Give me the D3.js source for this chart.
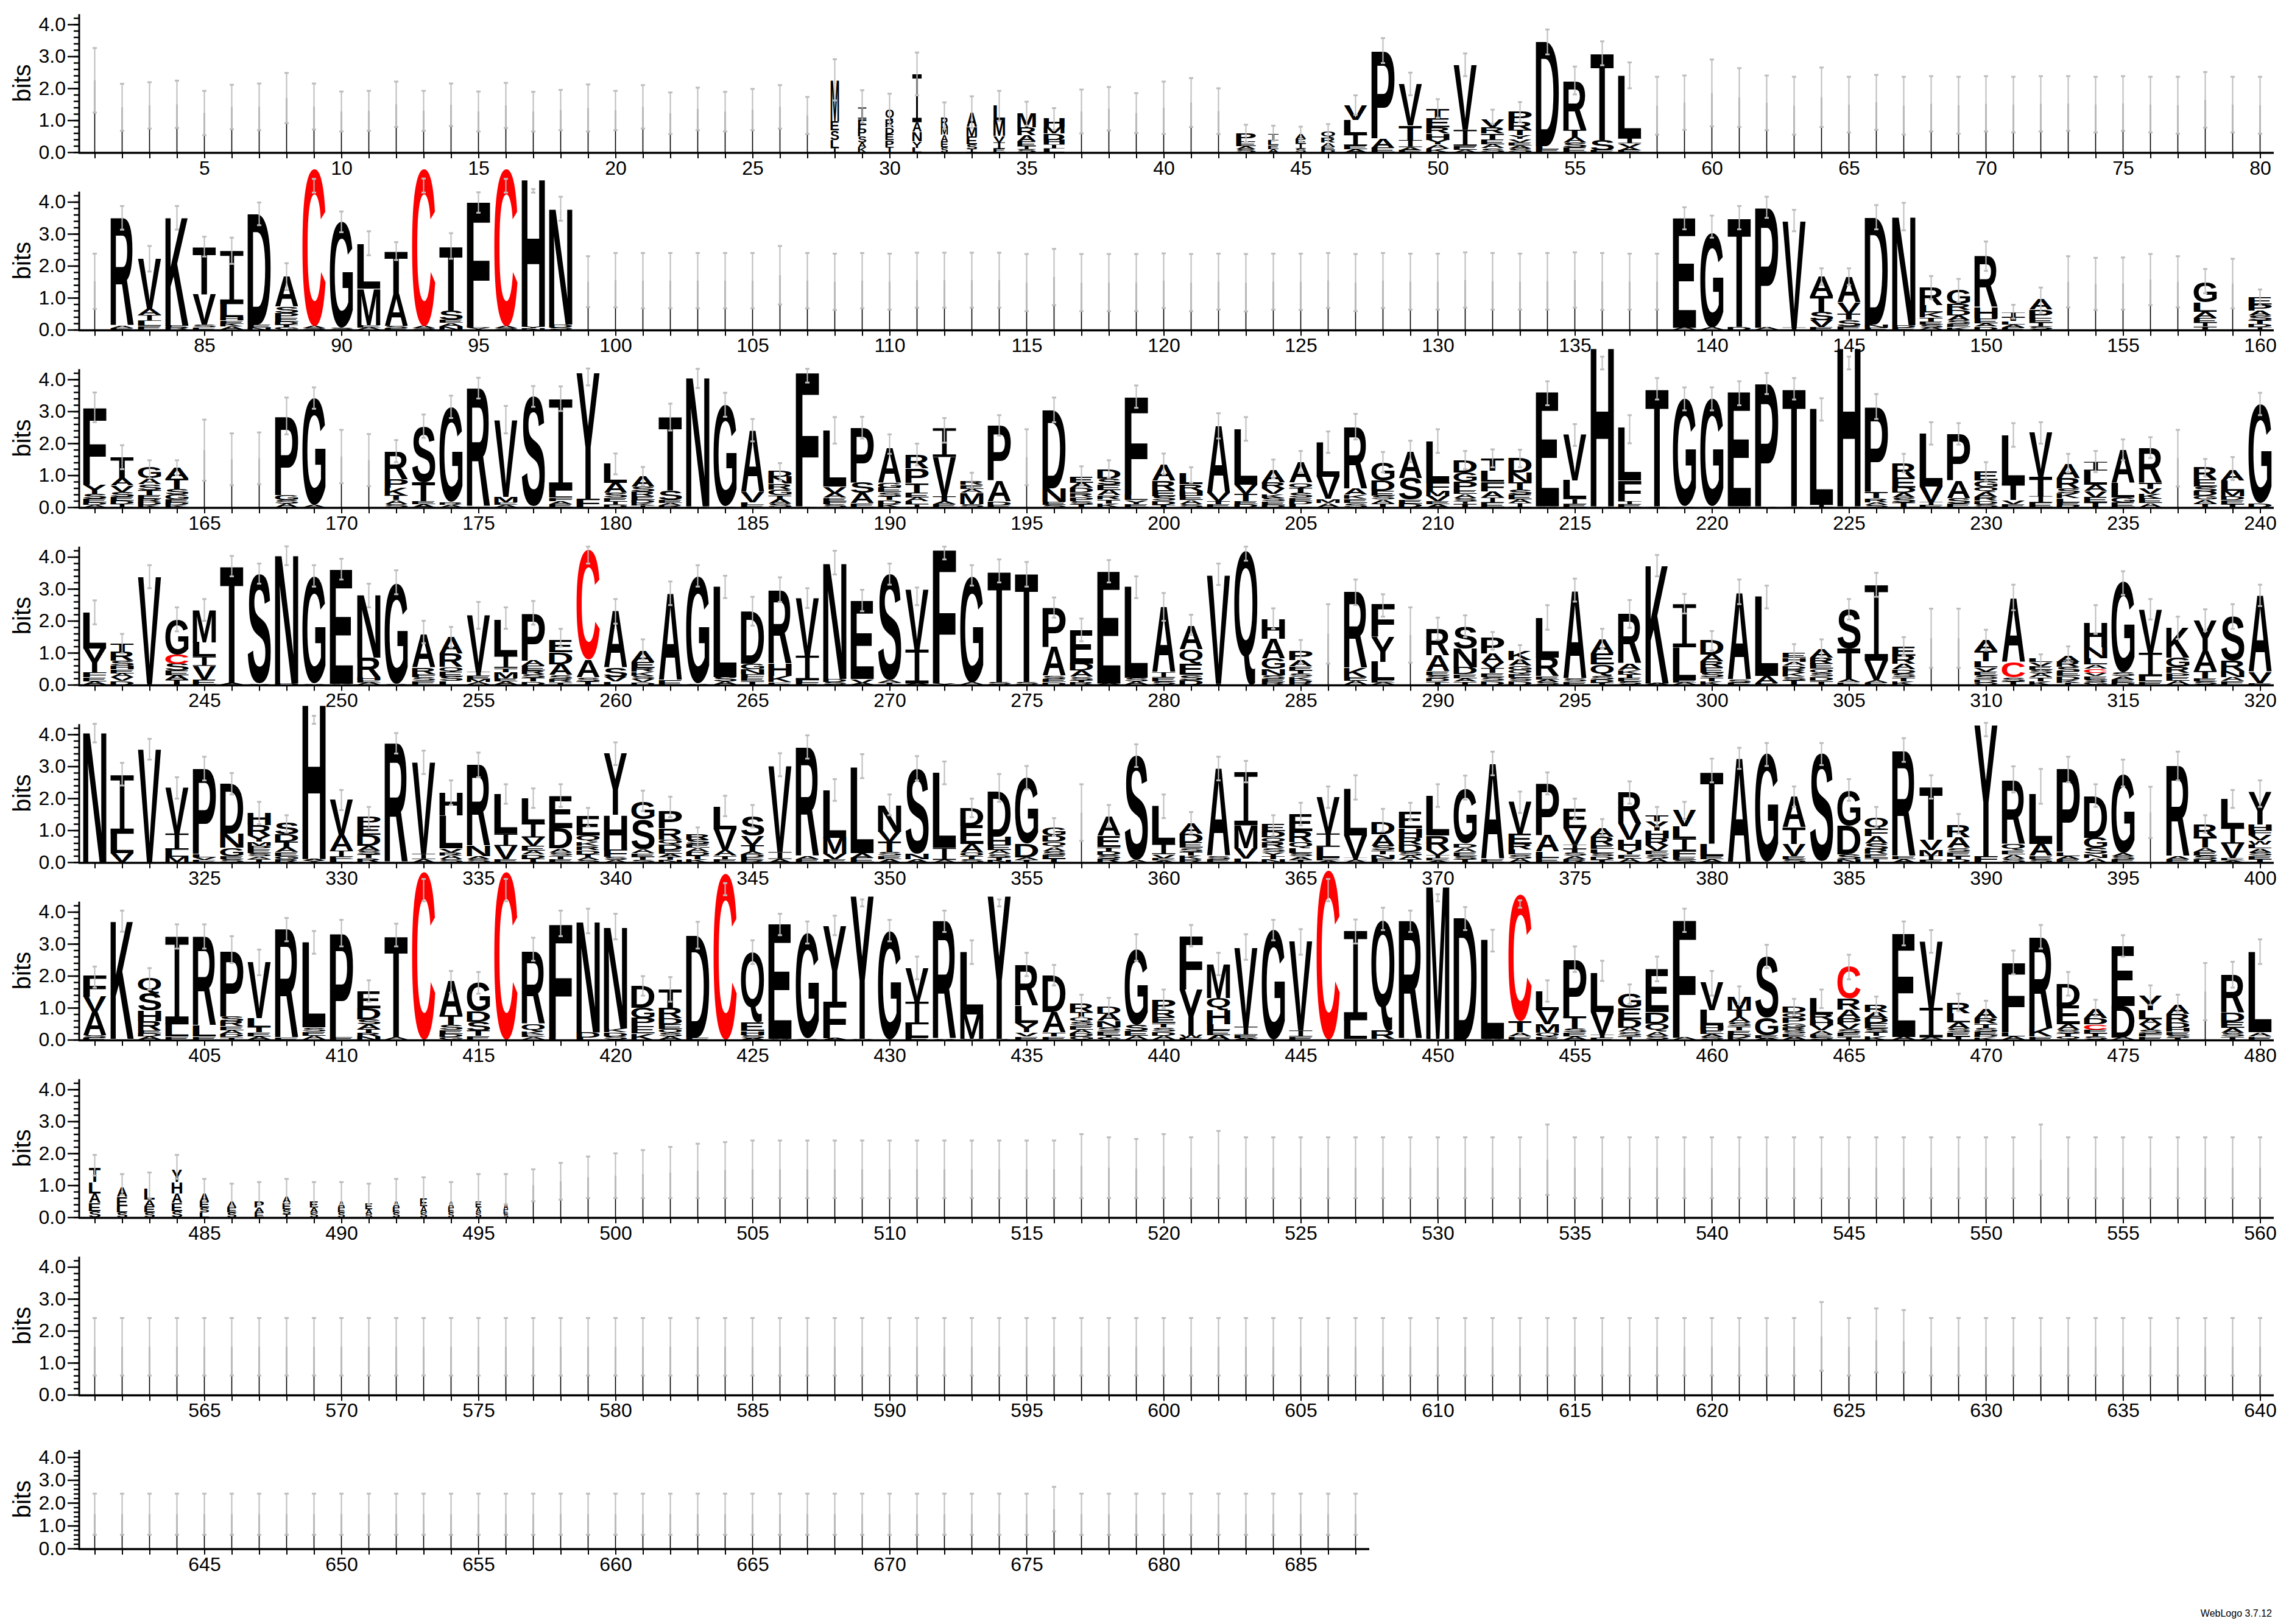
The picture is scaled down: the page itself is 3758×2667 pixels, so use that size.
<!DOCTYPE html>
<html><head><meta charset="utf-8">
<script src="https://cdn.jsdelivr.net/npm/d3@7"></script>
<style>body{margin:0;background:#fff}</style>
</head><body>
<svg id="chart" width="3758" height="2667" xmlns="http://www.w3.org/2000/svg"></svg>
<script>
// Each position: "letters(top->bottom with bits);errLow,errHigh[;widthFraction]"
const row1 = [
";1.24,3.26",";.67,2.14",";.74,2.19",";.76,2.24",";.53,1.92",";.72,2.11",";.69,2.15",";.91,2.48",";.71,2.15",";.65,1.9",
";.67,1.92",";.79,2.21",";.67,1.92",";.82,2.15",";.65,1.9",";.76,2.17",";.65,1.89",";.69,1.95",";.65,2.12",";.69,1.92",
";.74,2.1",";.57,1.87",";.69,2.02",";.65,1.89",";.69,1.98",";.74,2.1",";.57,1.73",
"M1.27E.3S.3L.25I.13;1.62,2.91;.36","I.35F.3P.25S.2A.15K.15;.92,1.94;.36","Q.3R.25D.2E.2P.2T.18;.84,1.83;.36",
"I1.5A.3N.3Y.2L.14;1.78,3.12;.4","R.3M.25A.2E.2S.15;.73,1.56;.3","A.45M.3E.25S.14I.1;.76,1.75;.45",
"L.45M.5V.2I.2E.11;.98,1.92;.5","M.45R.25A.2E.15I.1S.09;.83,1.58;.8","H.3M.2D.2H.15I.12L.12;.7,1.38;.9",
";.59,1.96",";.68,2.04",";.6,1.85",";.57,2.21",";.79,2.32",";.57,2.0",
"P.25E.15A.1S.1;.32,.86;.85","I.2L.15E.12A.1;.36,.83;.45","A.15E.15I.15S.12;.34,.8;.45","Q.2R.15A.12E.1D.08;.19,.88;.6",
"V.45L.45I.35E.12A.09;1.17,1.78","P2.73A.3E.14;2.79,3.57","V1.3T.45I.22A.1E.06;1.78,2.49","T.3E.28R.2H.2Y.15A.12K.12;1.08,1.66",
"V2.03I.5E.12A.08;2.38,3.09","V.24R.2T.2E.14A.12S.13;.89,1.33","P.32R.24T.18Y.12V.1E.1A.1S.11;.95,1.57","D3.26L.1E.09;3.06,3.84",
"R1.52T.22A.18S.15E.15;1.81,2.68","T2.7S.32E.06;2.72,3.47","L1.96I.16V.13A.09E.06;2.0,2.81",
";.55,2.36",";.7,2.4",";.81,2.9",";.79,2.63",";.69,2.4",";.55,2.36",";.79,2.65",";.62,2.36",";.7,2.42",";.55,2.36",
";.65,2.38",";.58,2.36",";.65,2.38",";.62,2.36",";.65,2.38",";.67,2.38",";.62,2.36",";.67,2.38",";.62,2.36",";.58,2.36",
";.77,2.51",";.62,2.36",";.58,2.36"
];
const row2 = [
";.65,2.38","R3.37A.07E.05;3.13,3.87","V1.56A.2I.18L.15E.13;1.82,2.62","K3.38E.07R.06;3.13,3.87","T1.47V.95S.08E.08;2.29,2.91",
"I1.66L.41H.1E.1K.09A.1;2.06,2.88","D3.46E.09N.07;3.27,3.98","A.92S.2P.15E.12D.1T.08G.08;1.24,2.08","C4.92A.06S.05;4.29,4.72","G3.32S.05;3.05,3.7",
"L1.4M1.14E.08A.07;2.33,3.08","T1.33A1.0S.06E.05;2.18,2.74","C4.92A.06S.05;4.29,4.73","T2.0S.29E.1A.1N.11;2.22,3.02","F3.89L.06Y.06;3.66,4.3",
"C4.92A.06S.05;4.29,4.72","H4.63Y.05N.04;4.29,4.4","N3.63D.1S.06;3.41,4.16",
";.71,2.3",";.7,2.4",";.67,2.4",";.67,2.4",";.67,2.4",";.67,2.4",";.67,2.4",";.79,2.62",";.67,2.4",";.62,2.38",
";.67,2.4",";.63,2.38",";.69,2.41",";.69,2.41",";.69,2.41",";.69,2.41",";.58,2.37",";.77,2.53",";.58,2.37",";.58,2.37",
";.58,2.37",";.68,2.39",";.58,2.37",";.63,2.38",";.57,2.37",";.63,2.38",";.62,2.38",";.68,2.4",";.58,2.37",";.68,2.4",
";.63,2.38",";.63,2.38",";.69,2.42",";.63,2.4",";.63,2.38",";.63,2.4",";.69,2.42",";.62,2.4",";.63,2.38",";.63,2.38",
"E3.43A.06;3.14,3.83","G2.95A.07;2.88,3.57","T3.4D.09;3.14,3.87","P3.77A.06;3.5,4.16","V3.33I.07;3.08,3.75",
"A.62T.48S.27V.21E.09;1.4,1.92","A.79V.35T.2S.2E.11;1.4,1.92","D3.33N.1E.06;3.14,3.9","N3.4D.08E.06;3.11,3.97","R.57L.22K.15T.13E.1S.1A.06;.95,1.68",
"G.44R.19D.16A.15S.12E.1K.08;.87,1.59","R1.59H.35E.15A.1D.1;1.84,2.76","I.15T.12L.1A.1E.07;.35,.78","A.32P.27E.14I.12S.1;.51,1.32",
";.7,2.3",";.62,2.25",";.63,2.26",";.77,2.37",";.7,2.3","G.63L.29A.2E.15I.12T.1;1.14,1.9",";.67,2.22","E.22P.2A.15S.15T.12D.1I.08;.76,1.26"
];
const row3 = [
"F2.4Y.28S.15E.12D.08A.07;2.66,3.59","T.65A.22V.2S.15E.12D.11I.1;1.19,1.94","G.35A.18S.18T.15E.12R.1D.1K.07;.91,1.47","A.35T.32S.18G.15E.1D.08K.07;1.0,1.47",
";.83,2.74",";.69,2.31",";.72,2.34","P2.45G.15S.12A.11;2.28,3.43","G3.33A.07;3.08,3.75",";.75,2.42",
";.66,2.29","R.86P.26K.24T.15A.12S.1;1.41,2.1","S1.74T.58E.09A.1;2.17,2.9","G2.95R.08A.08;2.79,3.49","R3.7E.02;3.4,4.05",
"V2.4M.16E.08A.08;2.31,3.17","S3.43A.03;3.14,3.79","I2.85L.22F.1A.1E.1;3.01,3.78","Y3.94F.26;3.81,4.34","L.61A.32S.15E.12I.1D.08;1.03,1.68",
"A.32S.15R.14E.12D.1K.07I.06;.67,1.26","T2.3S.29E.1A.08R.05;2.4,3.24","N4.04D.03;3.73,4.33","G3.17A.03;2.83,3.58","A1.92V.32L.08E.08;2.06,2.76",
"D.2N.21R.18G.18T.13A.14S.11;.83,1.38","F4.2Y.03;3.9,4.33","L1.76V.2A.14E.1F.1S.1;1.99,2.82","P1.73S.32A.32E.13;2.15,2.83","A1.09G.16E.14S.13T.12D.12K.1;1.67,2.28",
"R.42P.45T.3E.15A.12L.1I.09;1.31,1.99","I.9V1.22T.15A.1E.1;2.02,2.79","R.13E.12A.13M.35S.1;.6,1.08","P1.73A.64D.13E.06;2.24,2.88",";.69,2.44",
"D2.44N.42E.1S.08;2.66,3.43","E.2A.16D.15R.13P.12S.1T.1;.69,1.28","D.29S.2E.16A.16R.13T.13K.12;.92,1.47","F3.08L.16Y.13E.09;3.11,3.81","A.48R.29E.19S.15D.12T.08;1.03,1.68",
"L.35R.2H.15E.15A.12S.1;.77,1.25","A2.1V.26T.1E.09;2.15,2.94","L1.73V.29T.22E.1D.1;2.08,2.82","A.38R.19V.16K.13S.11E.1D.08;.9,1.49","A.64Q.17T.15S.15E.1D.1L.1;1.09,1.76",
"L1.06V.7M.13A.13;1.7,2.37","R1.92A.19K.13E.13S.13;2.12,2.92","G.58D.32E.14S.13A.12T.12;1.09,1.73","A.83S.67E.12D.11;1.41,2.08","L1.28F.26M.16V.16E.1A.09;1.7,2.44",
"D.38G.29P.26E.13A.13S.1I.08T.1;1.19,1.76","T.4L.35F.3A.2I.15E.15;1.25,1.81","D.45N.32T.22S.15E.15A.12I.13;1.25,1.8","E3.57A.03;3.19,3.94","V1.44L.58I.16E.1;1.92,2.6",
"H4.97A.03;4.31,4.71","L1.67F.64I.1E.09;2.0,2.88","T3.67A.03;3.37,4.04","G3.37A.03;3.03,3.75","G3.37A.03;3.03,3.75",
"E3.57A.03;3.19,3.94","P3.85A.03;3.54,4.2","T3.67A.03;3.37,4.04","L3.0I.08;2.71,3.41","H4.97A.03;4.31,4.71",
"P2.65T.2R.12A.08S.08;2.76,3.54","R.45E.32D.16A.15S.15T.15;1.09,1.67","L1.65V.48I.1E.06;1.96,2.66","P1.46A.55S.17E.11;1.96,2.63","E.29G.2Q.15A.15R.13D.1S.1;.83,1.41",
"L1.49T.55V.13E.09;1.89,2.63","V1.39T.61I.2E.15;1.99,2.66","A.45R.32S.15K.15L.13E.1D.06;1.09,1.67","I.27L.45A.19V.2E.16T.15;1.1,1.76","A1.03L.45G.16E.15;1.47,2.12",
"R1.09T.19V.16K.15E.14A.13;1.54,2.19",";.65,2.42","R.38E.22S.15D.14G.12A.12T.12;.96,1.51","A.32L.32M.16D.13E.12T.1;.85,1.57","G3.09D.13;2.88,3.58"
];
const row4 = [
"L1.11Y.77F.14E.13A.1;1.89,2.64","T.25R.29S.15H.12E.12A.12V.12D.12;.98,1.59","V3.31I.05;3.02,3.74","G1.09C.29S.22E.14A.14T.16;1.67,2.42","M1.0L.45I.29V.42E.17;2.0,2.68",
"T3.67A.04;3.39,4.03","S3.41A.03;3.16,3.79","N4.02D.04;3.74,4.33","G3.34A.03;3.07,3.74","E3.57A.03;3.29,3.94",
"N1.96R.61H.1E.08A.06;2.42,3.16","G3.15A.03;2.83,3.58","A1.03R.19F.1S.12E.12;1.3,2.0","A.51R.42Q.16E.14S.14L.12;1.17,1.81","V1.77I.12E.1M.1A.08;1.75,2.59",
"L1.13I.38T.13M.2E.1A.1;1.75,2.42","P1.48A.16E.14R.12S.12T.11D.1;1.88,2.62","E.39D.37A.33S.13R.1T.08;1.19,1.75","C3.44A.55S.12T.11;3.79,4.32","A1.77S.29V.14L.1;1.91,2.68",
"A.35E.19R.13K.12S.1V.1D.08;.79,1.42","A2.71E.14;2.49,3.23","G3.34A.03;3.07,3.74","L2.83S.14A.1;2.71,3.41","D1.64G.18N.14F.12E.1T.12;1.85,2.75",
"R2.28H.39K.19E.08;2.59,3.36","V1.8I.77L.07E.07;2.4,3.02","N3.63D.1S.08;3.45,4.19","E2.44V.13A.05;2.3,2.97","S3.31A.08T.06;3.13,3.79",
"V1.87I1.06A.04;2.49,3.04","F4.2Y.04;3.92,4.32","G3.31A.06;3.1,3.74","T3.46S.08;3.2,3.92","T3.38S.08;3.07,3.84",
"P1.23A.9S.1E.1D.08;2.1,2.73","E1.04D.22A.19S.1T.08R.07;1.36,2.07","E3.5A.04;3.2,3.9","L2.86S.11A.1;2.71,3.39","A2.03I.16E.13S.1;2.0,2.87",
"A.74Q.45E.35S.16D.15;1.56,2.19","V3.38I.04;3.12,3.79","Q4.19;3.88,4.32","H.61A.61G.32N.2S.12E.1R.08;1.75,2.39","P.29A.2E.13T.1S.1K.1D.08R.07;.66,1.4",
";.66,2.52","R2.38K.29E.12A.12;2.49,3.29","F1.02Y.77L.58E.08A.06;2.13,2.83",";.69,2.42","R.84A.48E.13S.1D.1T.1;1.4,2.1",
"S.68N.58D.22E.13A.1T.1;1.49,2.17","P.48A.29V.17T.15E.13S.12D.12;1.1,1.65","K.29A.19G.13Q.12E.12S.1D.12;.72,1.24","L1.25R.58E.1A.09S.08;1.72,2.49","A2.74S.1E.1;2.6,3.32",
"A.45E.35Q.35S.12D.1T.06;1.12,1.75","R1.55A.19K.13T.12E.12S.1;1.78,2.65","K3.7A.04;3.39,4.06","I1.35L1.03E.07A.07;2.23,2.84","D.45A.22R.19E.16S.15T.12K.11;1.07,1.68",
"A2.7S.1E.07;2.52,3.29","L2.48A.22E.05;2.39,3.1","E.14H.13A.13D.1R.12K.12S.1T.15;.66,1.27","A.27R.19E.16Q.13S.12D.13T.12;.85,1.42","S1.22T.96A.1E.08;2.04,2.68",
"I2.36V.61A.08E.06;2.75,3.5","E.29R.26A.16D.13S.13T.12K.11;.91,1.49",";.53,2.38",";.53,2.38","A.35T.32L.19V.13E.12S.12D.1Q.07;1.07,1.72",
"A1.99C.48S.13T.11;2.33,3.13","L.13V.13E.12S.12A.12T.12K.11;.4,.95","A.19R.16S.15E.14D.12K.08T.07;.72,1.2","H.77N.35L.19A.13C.13V.1E.1S.09G.08;1.59,2.49","G2.83S.12A.1E.1D.07;2.81,3.55",
"V1.35I.74L.16E.1;2.04,2.68","K.93G.29R.19P.13E.12A.12;1.43,2.13","Y.96A.64T.22E.1S.1;1.68,2.36","S1.38R.32N.19A.12E.12;1.75,2.52","A2.38V.35E.05;2.46,3.13"
];
const row5 = [
"N4.07;3.75,4.33","I1.83L.61V.28;2.4,3.11","V3.53;3.21,3.86","V1.44I.51L.22M.17;1.99,2.66","P2.69L.1V.08E.08;2.56,3.3",
"D1.57N.45G.26E.1S.09;2.12,2.79","H.38R.32Y.2M.12P.12E.12S.1A.08T.1;1.19,1.89","S.38D.22T.19A.14E.12G.1R.1;.93,1.47","H4.84A.05Y.05;4.33,4.58","V1.12A.48I.19E.08L.09;1.63,2.26",
"P.29E.29D.35A.14S.12T.12R.13;1.06,1.73","R3.72;3.4,4.04","V2.85I.16A.1;2.76,3.49","H.71L1.03V.13R.1A.11S.1;1.79,2.56","R2.53N.32A.1S.09;2.66,3.43",
"L1.24I.38V.42E.09;1.83,2.44","L.77I.45V.26E.15A.12D.12T.12;1.7,2.31","E.99D.63A.13S.1T.1E.1;1.73,2.44","E.61Q.19K.13R.13D.13T.1A.08S.07;1.12,1.7","Y1.92H1.09F.22S.1A.07;3.04,3.75",
"G.55S.93A.13E.1T.1S.08;1.6,2.24","P.54R.35Q.16D.16E.12A.1T.1N.07;1.41,2.05","R.16S.14E.12A.12D.12T.11K.1;.48,1.09","L.7V.67A.16T.1E.1;1.44,2.08","S.61V.29T.19A.1D.1E.08R.07;1.09,1.79",
"V2.69I.22A.1;2.69,3.41","R3.4A.1E.09;3.24,3.97","L1.49M.51V.16E.1;1.92,2.6","L2.69A.15E.14;2.63,3.38","N.83V.32T.32S.12E.1A.1;1.47,2.12",
"S2.66N.16A.1;2.56,3.32","L2.34I.38A.07;2.44,3.15","D.55E.58A.26Q.12T.1S.09;1.41,1.99","D1.41H.26E.16A.12S.1T.1N.06;1.89,2.76","G2.05D.42A.08T.08;2.28,3.01",
"G.26D.19Q.16A.13S.12E.12T.11;.83,1.38",";.67,2.44","A.58E.35T.13D.12S.12R.11;1.12,1.79","S3.27A.06;2.98,3.69","L1.19I.32V.13E.07A.05;1.38,2.12",
"A.32D.29E.16S.12T.12K.11R.1;.9,1.57","A2.72S.1E.1;2.56,3.3","I1.67M.71V.32L.12;2.5,3.17","E.22D.19Q.16R.16S.13Y.13T.1N.1;.83,1.47","E.54R.35Q.19L.15S.1A.1T.08;1.15,1.86",
"V1.15I.42L.35E.08A.05;1.7,2.37","L1.47V.7I.08A.06;1.96,2.72","D.38A.35S.15T.13N.12E.12;.96,1.67","E.51H.29R.22D.22S.12A.11T.1;1.31,1.86","L1.25R.45V.15I.1E.08A.05;1.73,2.44",
"G1.7D.13A.13E.12S.1T.1;1.96,2.71","A2.98E.1;2.72,3.46","V.99E.32R.19L.15S.12A.12;1.54,2.21","P1.63A.51L.19E.14;2.12,2.81","E.61V.51I.13T.12S.1A.1R.1;1.35,1.99",
"A.26R.26E.13L.13S.1D.1T.08;.83,1.35","R.97V.51H.32Y.14E.13A.12;1.83,2.53","T.2Y.28H.24R.22V.16E.12S.13A.12;1.12,1.73","V.51L.38I.38F.19E.1S.07;1.35,1.89","T2.24L.38E.1A.1;2.5,3.24",
"A3.24;2.92,3.58","G3.4;3.01,3.73","A.96T.51V.38E.1S.1;1.73,2.37","S3.37A.03;3.04,3.73","G1.09D.9S.15N.1;1.92,2.6",
"Q.38F.22A.22S.19R.14E.13T.13;1.09,1.73","R3.3E.1A.09;3.14,3.88","T1.65V.32M.19I.13E.07;1.99,2.72","R.38A.32S.13E.12T.1D.1;.9,1.51","Y4.1F.19;3.94,4.36",
"R1.99Q.19E.13A.13S.12;2.18,3.0","L1.57A.38E.1S.1;1.83,2.92","P2.6L.13A.1E.09;2.5,3.3","D1.28G.32S.19N.13A.13;1.73,2.44","G2.47A.1S.1E.09;2.37,3.21",
";.76,2.36","R2.82A.1E.09;2.56,3.46","R.38T.33A.13E.12S.11D.1;.93,1.47","L.9I.51V.45E.08A.05;1.7,2.26","Y1.03H.19F.16V.16W.13L.12A.12S.11E.1T.1;1.73,2.56"
];
const row6 = [
"F.67V.48A.74S.07E.06;1.63,2.29","K3.69E.03;3.38,4.04","Q.51S.54H.32R.29E.1D.1A.1;1.57,2.24","I2.74L.38E.1;2.85,3.61","R2.77L.35E.1;2.85,3.61",
"P2.05S.16R.16E.12A.12D.1T.08;2.4,3.24","V1.76L.29T.16E.13A.1;2.02,2.82","R3.38E.06;3.08,3.81","L2.67S.13E.13A.13;2.69,3.4","P3.24E.09;2.92,3.75",
"E.53D.35S.16A.14T.12R.11N.11;1.19,1.86","T3.17A.07;2.92,3.63","C5.25;4.33,5.03","A1.09T.32S.14E.13D.1G.08;1.47,2.15","G.9D.32S.29T.16E.12;1.44,2.12",
"C5.25;4.33,5.03","R2.26Q.22K.1E.08A.08;2.47,3.19","F3.56L.06;3.24,4.04","N3.47D.16L.07;3.33,4.1","N3.17K.13D.12S.11;3.14,3.94",
"D.67G.32P.26E.22K.2;1.38,1.99","T.58R.32D.19E.14Q.12S.12A.1;1.19,1.96","D3.2E.07;2.85,3.69","C5.2;4.52,4.9","Q2.18E.26H.13S.1A.05;2.37,3.11",
"E3.59A.03;3.27,3.94","G3.3A.03;3.01,3.7","Y2.37F1.15A.04;3.27,3.88","Y4.46A.03;4.17,4.39","G3.4;3.08,3.75",
"V1.04I.71L.42E.06;1.89,2.6","R3.69A.03;3.37,4.04","L1.96M.77A.03;2.37,3.11","Y4.46A.03;4.17,4.39","R1.28L.54Y.29V.13E.1;1.99,2.72",
"D1.15A.64T.13E.1;1.7,2.34","R.26T.16Q.13S.13E.12A.12D.1G.1;.7,1.41","D.22A.22N.19S.13E.12T.08G.07;.74,1.31","G2.37S.2E.15A.13;2.47,3.3","P.32R.22E.19T.13S.13D.13A.13;.99,1.57",
"F1.67Y1.41W.1E.06;2.92,3.59","M1.06Q.38H.45L.19E.15A.14;2.02,2.72","V2.47I.26E.1A.05;2.5,3.3","G3.43;3.11,3.75","V2.79I.19E.1;2.66,3.46",
"C5.3;4.33,5.03","I2.79L.58E.03;3.01,3.76","Q3.47R.26E.03;3.43,4.13","R3.69A.03;3.37,4.04","M4.78A.03;4.33,4.55",
"D3.81;3.43,4.15","L3.11A.03;2.76,3.44","C3.97T.35A.13E.1;4.13,4.36","L.58V.45M.26Q.12E.1;1.19,1.86","P1.76T.38S.13E.13A.1;2.12,2.92",
"L1.22V.7I.1E.06;1.84,2.47","G.45E.35D.26A.13S.13T.12;1.12,1.73","E1.35D.35Q.26A.13S.12;1.83,2.6","F3.69A.06;3.37,4.1","V.87L.48H.14E.12A.1S.08;1.38,2.15",
"M.42T.22A.16S.13T.13E.12D.1K.07;1.12,1.67","S1.92G.54E.1A.04;2.24,2.97","D.19Q.16P.16G.13R.1S.1E.1A.09;.77,1.28","L.5R.19H.16V.16A.13E.1S.06;.99,1.57","C.99R.35A.26P.19V.16S.12E.11T.1;1.89,2.66",
"R.22A.19D.16E.16S.12T.12K.12;.83,1.35","E3.22A.09;2.95,3.7","V2.08I.93A.07;2.72,3.43","R.32L.29A.19S.12E.12T.11;.9,1.44","A.29R.16T.13S.12E.1D.08K.08;.71,1.22",
"F2.18L.12A.1;2.05,2.79","R2.85K.26E.1;2.85,3.59","D.67E.58A.16S.12T.1Q.1;1.38,2.12","A.29D.19C.16E.12T.1S.1;.74,1.25","E1.87D.99A.07;2.6,3.27",
"Y.45L.29A.16V.16S.12F.1E.1;1.09,1.7","A.29R.26D.16H.13E.1S.08T.07;.87,1.41",";.61,2.4","R1.17D.29E.2A.15S.12T.1;1.63,2.44","L2.51A.13E.1;2.37,3.14"
];
const row7 = [
"T.45L.35A.3E.25S.2;1.3,1.95;.5","A.3E.3L.2S.15;.7,1.35;.45","L.35A.2E.2S.15;.6,1.4;.45","Y.4H.35A.3E.25S.2;1.2,1.95;.45","A.25E.2S.15L.15;.5,1.2;.4",
"A.2E.15S.15;.35,1.05;.4","P.2A.15E.15;.4,1.1;.4","A.2E.2S.15T.1;.4,1.2;.35","E.2A.15S.15;.35,1.1;.35","A.2E.15S.15;.4,1.1;.3",
"E.2A.15S.1;.4,1.05;.3","A.2E.15S.15;.4,1.2;.3","E.25A.2S.15;.4,1.25;.3","A.2E.15S.15;.4,1.1;.25","E.2A.15S.15;.45,1.35;.25",
"A.2E.15S.1;.4,1.35;.2",";.5,1.5",";.55,1.7",";.6,1.9",";.6,2.0",
";.6,2.1",";.6,2.2",";.6,2.3",";.6,2.35",";.6,2.4",";.6,2.4",";.6,2.4",";.6,2.4",";.6,2.4",";.6,2.4",
";.6,2.4",";.6,2.4",";.6,2.4",";.6,2.4",";.6,2.4",";.6,2.4",";.6,2.6",";.6,2.5",";.6,2.45",";.6,2.6",
";.6,2.5",";.6,2.7",";.6,2.5",";.6,2.5",";.6,2.5",";.6,2.5",";.6,2.5",";.6,2.5",";.6,2.5",";.6,2.5",
";.6,2.5",";.6,2.5",";.6,2.5",";.7,2.9",";.6,2.5",";.6,2.5",";.6,2.5",";.6,2.5",";.6,2.5",";.6,2.5",
";.6,2.5",";.6,2.5",";.6,2.5",";.6,2.5",";.6,2.5",";.6,2.5",";.6,2.5",";.6,2.5",";.6,2.5",";.6,2.5",
";.6,2.5",";.7,2.9",";.6,2.5",";.6,2.5",";.6,2.5",";.6,2.5",";.6,2.5",";.6,2.5",";.6,2.5",";.6,2.5"
];
const row8 = [
";.6,2.4",";.6,2.4",";.6,2.4",";.6,2.4",";.6,2.4",";.6,2.4",";.6,2.4",";.6,2.4",";.6,2.4",";.6,2.4",
";.6,2.4",";.6,2.4",";.6,2.4",";.6,2.4",";.6,2.4",";.6,2.4",";.6,2.4",";.6,2.4",";.6,2.4",";.6,2.4",
";.6,2.4",";.6,2.4",";.6,2.4",";.6,2.4",";.6,2.4",";.6,2.4",";.6,2.4",";.6,2.4",";.6,2.4",";.6,2.4",
";.6,2.4",";.6,2.4",";.6,2.4",";.6,2.4",";.6,2.4",";.6,2.4",";.6,2.4",";.6,2.4",";.6,2.4",";.6,2.4",
";.6,2.4",";.6,2.4",";.6,2.4",";.6,2.4",";.6,2.4",";.6,2.4",";.6,2.4",";.6,2.4",";.6,2.4",";.6,2.4",
";.6,2.4",";.6,2.4",";.6,2.4",";.6,2.4",";.6,2.4",";.6,2.4",";.6,2.4",";.6,2.4",";.6,2.4",";.6,2.4",
";.6,2.4",";.6,2.4",";.6,2.4",";.75,2.9",";.6,2.4",";.7,2.7",";.7,2.65",";.6,2.4",";.6,2.4",";.6,2.4",
";.6,2.4",";.6,2.4",";.6,2.4",";.6,2.4",";.6,2.4",";.6,2.4",";.6,2.4",";.6,2.4",";.6,2.4",";.6,2.4"
];
const row9 = [
";.6,2.4",";.6,2.4",";.6,2.4",";.6,2.4",";.6,2.4",";.6,2.4",";.6,2.4",";.6,2.4",";.6,2.4",";.6,2.4",
";.6,2.4",";.6,2.4",";.6,2.4",";.6,2.4",";.6,2.4",";.6,2.4",";.6,2.4",";.6,2.4",";.6,2.4",";.6,2.4",
";.6,2.4",";.6,2.4",";.6,2.4",";.6,2.4",";.6,2.4",";.6,2.4",";.6,2.4",";.6,2.4",";.6,2.4",";.6,2.4",
";.6,2.4",";.6,2.4",";.6,2.4",";.6,2.4",";.6,2.4",";.75,2.7",";.6,2.4",";.6,2.4",";.6,2.4",";.6,2.4",
";.6,2.4",";.6,2.4",";.6,2.4",";.6,2.4",";.6,2.4",";.6,2.4",";.6,2.4"
];
const yTickLabels = ["0.0","1.0","2.0","3.0","4.0"];
const yAxisTitle = "bits";
const footerText = "WebLogo 3.7.12";
const redLetters = ["C"];
const rows = [row1,row2,row3,row4,row5,row6,row7,row8,row9];

function parsePos(s){
  const parts = s.split(";");
  const letters = [];
  const re = /([A-Z])([\d.]+)/g; let m;
  while((m = re.exec(parts[0]))) letters.push({ch:m[1], h:+m[2]});
  const [lo,hi] = parts[1].split(",").map(Number);
  return {letters, lo, hi, w: parts.length>2 ? +parts[2] : 1};
}

function draw(){
  const svg = d3.select("#chart");
  svg.append("rect").attr("width",3758).attr("height",2667).attr("fill","#fff");
  const FONT = "'Liberation Sans', Arial, sans-serif";
  const cv = document.createElement("canvas").getContext("2d");
  const FS = 200;
  cv.font = `bold ${FS}px 'Liberation Sans'`;
  const metricCache = {};
  function met(ch){
    if(!metricCache[ch]){
      const m = cv.measureText(ch);
      metricCache[ch] = {l:m.actualBoundingBoxLeft, r:m.actualBoundingBoxRight, a:m.actualBoundingBoxAscent, d:m.actualBoundingBoxDescent};
    }
    return metricCache[ch];
  }
  const I_PATH = "M0,0H1V0.09H0.6V0.91H1V1H0V0.91H0.4V0.09H0Z";
  const X0 = 133, COLW = 45, LW = 38, MAXB = 4.32;
  // the last (partial) line of the reference is drawn with a shorter vertical scale
  const layout = rows.map((r,i)=> i<8 ? {base:250+i*291.5, ppb:52.5} : {base:2543, ppb:37.5});

  rows.forEach((rowData, ri)=>{
    const start = ri*80+1;
    const n = rowData.length;
    const {base, ppb} = layout[ri];
    const x = d3.scaleLinear().domain([start-0.5, start+79.5]).range([X0, X0+80*COLW]);
    const y = d3.scaleLinear().domain([0, MAXB]).range([base, base-MAXB*ppb]);
    const g = svg.append("g");
    const data = rowData.map((s,i)=>Object.assign({pos:start+i}, parsePos(s)));

    const gl = g.append("g");
    data.forEach(d=>{
      const cx = x(d.pos);
      if(d.letters.length===0){
        const top = (d.lo+d.hi)/2;
        gl.append("rect").attr("x",cx-0.8).attr("width",1.6)
          .attr("y",y(top)).attr("height",y(0)-y(top)).attr("fill","#000");
        return;
      }
      const w = LW*d.w;
      let acc = 0;
      d.letters.slice().reverse().forEach(L=>{
        const y0 = y(acc), y1 = y(acc+L.h);
        acc += L.h;
        const h = y0-y1;
        if(h < 0.8) return;
        const fill = redLetters.includes(L.ch) ? "#ff0000" : "#000";
        if(L.ch === "I"){
          gl.append("path").attr("d",I_PATH).attr("fill",fill)
            .attr("transform",`translate(${cx-w/2},${y1}) scale(${w},${h})`);
          return;
        }
        const mm = met(L.ch);
        const sx = w/(mm.l+mm.r), sy = h/(mm.a+mm.d);
        gl.append("text").text(L.ch)
          .attr("font-family",FONT).attr("font-weight","bold").attr("font-size",FS)
          .attr("fill", fill)
          .attr("transform",`translate(${cx-w/2+mm.l*sx},${y1+mm.a*sy}) scale(${sx},${sy})`);
      });
    });

    const ge = g.append("g").attr("stroke","#bdbdbd").attr("fill","#bdbdbd");
    data.forEach(d=>{
      const cx = x(d.pos);
      ge.append("line").attr("x1",cx).attr("x2",cx).attr("y1",y(d.lo)).attr("y2",y(d.hi)).attr("stroke-width",2);
      [d.lo,d.hi].forEach(v=>ge.append("rect").attr("x",cx-3.5).attr("y",y(v)-1.5).attr("width",7).attr("height",3).attr("stroke","none"));
    });

    const xAxis = d3.axisBottom(x).tickValues(d3.range(start, start+n)).tickSize(10).tickSizeOuter(0)
      .tickFormat(v => v%5===0 ? String(v) : "");
    const gx = g.append("g").attr("transform",`translate(0,${base})`).call(xAxis);
    gx.select(".domain").remove();
    gx.selectAll(".tick line").attr("stroke","#000").attr("stroke-width",2);
    gx.selectAll(".tick text").attr("font-family",FONT).attr("font-size",32).attr("fill","#000").attr("y",14).attr("dy","0.71em");
    g.append("line").attr("x1",X0-4).attr("x2",x(start+n-0.5)).attr("y1",base+1).attr("y2",base+1).attr("stroke","#000").attr("stroke-width",3.5);

    const minor = d3.range(0, 4.3, 0.2);
    const yMinor = d3.axisLeft(y).tickValues(minor).tickSize(9).tickFormat("").tickSizeOuter(0);
    const gy1 = g.append("g").attr("transform",`translate(130,0)`).call(yMinor);
    gy1.select(".domain").remove();
    gy1.selectAll(".tick line").attr("stroke","#000").attr("stroke-width",2.5);
    const yMajor = d3.axisLeft(y).tickValues(yTickLabels.map(Number)).tickSize(19).tickSizeOuter(0)
      .tickFormat((v,i)=>yTickLabels[i]);
    const gy2 = g.append("g").attr("transform",`translate(130,0)`).call(yMajor);
    gy2.select(".domain").remove();
    gy2.selectAll(".tick line").attr("stroke","#000").attr("stroke-width",2.5);
    gy2.selectAll(".tick text").attr("font-family",FONT).attr("font-size",32).attr("fill","#000").attr("x",-22);
    g.append("line").attr("x1",130).attr("x2",130).attr("y1",base+2).attr("y2",y(MAXB)).attr("stroke","#000").attr("stroke-width",3);
    g.append("text").text(yAxisTitle).attr("font-family",FONT).attr("font-size",40).attr("fill","#000")
      .attr("text-anchor","middle").attr("transform",`translate(50,${y(MAXB/2)}) rotate(-90)`);
  });

  svg.append("text").text(footerText).attr("x",3730).attr("y",2655).attr("text-anchor","end")
    .attr("font-family",FONT).attr("font-size",16).attr("fill","#000");
}
if (document.fonts && document.fonts.load) {
  document.fonts.load("bold 200px 'Liberation Sans'").then(draw, draw);
} else draw();
</script>
</body></html>
